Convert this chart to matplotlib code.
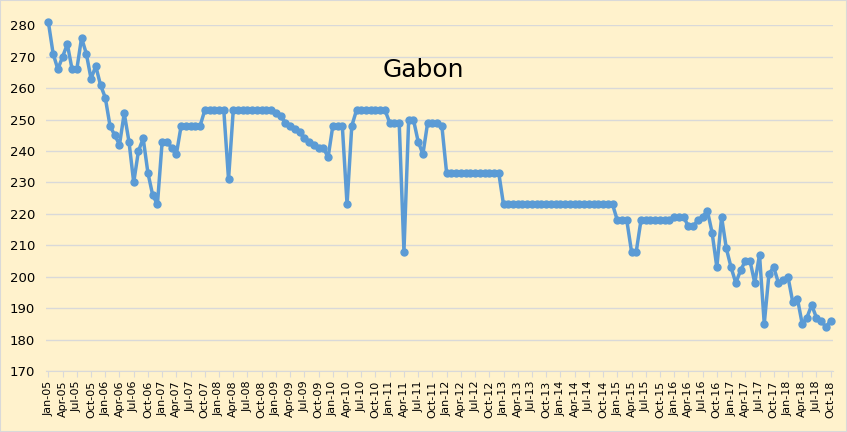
import matplotlib
matplotlib.use('Agg')
import matplotlib.pyplot as plt
from matplotlib.patches import Rectangle

RESULT_FILENAME = 'out.png'

# monthly production, Jan-05 .. Oct-18
y2005 = [281, 271, 266, 270, 274, 266, 266, 276, 271, 263, 267, 261]
y2006 = [257, 248, 245, 242, 252, 243, 230, 240, 244, 233, 226, 223]
y2007 = [243, 243, 241, 239, 248, 248, 248, 248, 248, 253, 253, 253]
y2008 = [253, 253, 231, 253, 253, 253, 253, 253, 253, 253, 253, 253]
y2009 = [252, 251, 249, 248, 247, 246, 244, 243, 242, 241, 241, 238]
y2010 = [248, 248, 248, 223, 248, 253, 253, 253, 253, 253, 253, 253]
y2011 = [249, 249, 249, 208, 250, 250, 243, 239, 249, 249, 249, 248]
y2012 = [233] * 12
y2013 = [223] * 12
y2014 = [223] * 12
y2015 = [218, 218, 218, 208, 208, 218, 218, 218, 218, 218, 218, 218]
y2016 = [219, 219, 219, 216, 216, 218, 219, 221, 214, 203, 219, 209]
y2017 = [203, 198, 202, 205, 205, 198, 207, 185, 201, 203, 198, 199]
y2018 = [200, 192, 193, 185, 187, 191, 187, 186, 184, 186]

values = (y2005 + y2006 + y2007 + y2008 + y2009 + y2010 + y2011 + y2012
          + y2013 + y2014 + y2015 + y2016 + y2017 + y2018)

months = ['Jan', 'Feb', 'Mar', 'Apr', 'May', 'Jun',
          'Jul', 'Aug', 'Sep', 'Oct', 'Nov', 'Dec']
labels = ['%s-%02d' % (months[i % 12], 5 + i // 12) for i in range(len(values))]

bg = '#FFF2CC'
blue = '#5B9BD5'
grid = '#D9D9D9'

fig = plt.figure(figsize=(8.47, 4.32), dpi=100, facecolor=bg)
ax = fig.add_axes([46 / 847, 1 - 371 / 432, (833 - 46) / 847, (371 - 25.3) / 432])
ax.set_facecolor(bg)

x = list(range(len(values)))
ax.plot(x, values, color=blue, lw=2.5, marker='o', ms=5, zorder=3, clip_on=False)

ax.set_xlim(-0.5, len(values) - 0.5)
ax.set_ylim(170, 280)
ax.set_yticks(range(170, 281, 10))
ax.yaxis.grid(True, color=grid, lw=1)
ax.set_axisbelow(True)
ax.tick_params(axis='y', length=0, labelsize=9.5, pad=8)

ax.set_xticks(x[::3])
ax.set_xticklabels(labels[::3], rotation=90, fontsize=8)
ax.tick_params(axis='x', length=4, color=grid, pad=3)

for s in ['top', 'right', 'left']:
    ax.spines[s].set_visible(False)
ax.spines['bottom'].set_color(grid)

ax.text(0.48, 0.87, 'Gabon', transform=ax.transAxes, ha='center', va='center',
        fontsize=18)

fig.patches.append(Rectangle((0, 0), 1, 1, transform=fig.transFigure,
                             fill=False, edgecolor='#D9D9D9', lw=1.5))

plt.savefig(RESULT_FILENAME, dpi=100, facecolor=bg)
